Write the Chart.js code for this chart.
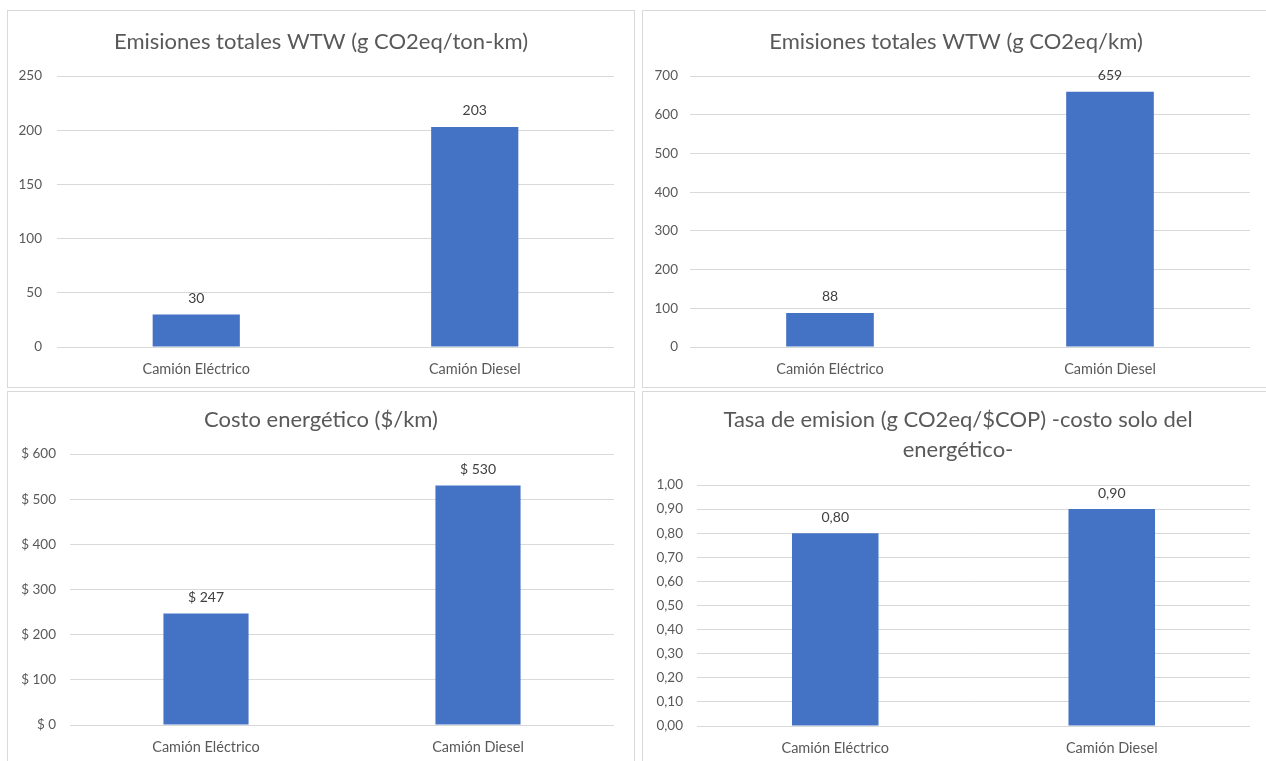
<!DOCTYPE html>
<html><head><meta charset="utf-8">
<script src="https://cdn.jsdelivr.net/npm/chart.js@4"></script>
<style>
body{margin:0;background:#fff;width:1266px;height:761px;overflow:hidden;position:relative;}
.panel{position:absolute;border:1px solid #d9d9d9;box-sizing:border-box;background:#fff}
canvas{display:block}
</style></head><body>
<div class="panel" id="p1" style="left:7px;top:10px;width:628px;height:378px"><canvas id="c1"></canvas></div>
<div class="panel" id="p2" style="left:642px;top:10px;width:628px;height:378px"><canvas id="c2"></canvas></div>
<div class="panel" id="p3" style="left:7px;top:391px;width:628px;height:378px"><canvas id="c3"></canvas></div>
<div class="panel" id="p4" style="left:642px;top:391px;width:628px;height:378px"><canvas id="c4"></canvas></div>
<script>
// ---- data ----
const categories = ['Camión Eléctrico', 'Camión Diesel'];
const emisionesTonKm = [30, 203];
const emisionesKm = [88, 659];
const costoKm = [247, 530];
const tasaEmision = [0.80, 0.90];

const title1 = ['Emisiones totales WTW (g CO2eq/ton-km)'];
const title2 = ['Emisiones totales WTW (g CO2eq/km)'];
const title3 = ['Costo energético ($/km)'];
const title4 = ['Tasa de emision (g CO2eq/$COP) -costo solo del', 'energético-'];

const FONT = 'Lato, "Open Sans", sans-serif';
const BAR = '#4472C4';

const fmtInt = v => String(Math.round(v));
const fmtMoney = v => '$ ' + Math.round(v);
const fmtDec = v => v.toFixed(2).replace('.', ',');

function makeChart(cfg) {
  const panel = document.getElementById(cfg.panel);
  const r = panel.getBoundingClientRect();
  const ox = r.left + 1, oy = r.top + 1;
  const w = r.width - 2, h = r.height - 2;
  const plot = cfg.plot;
  const titlePlugin = {
    id: 'ttl',
    afterDraw(chart) {
      const ctx = chart.ctx;
      ctx.save();
      ctx.fillStyle = '#595959';
      ctx.font = '22px ' + FONT;
      ctx.textAlign = 'center';
      ctx.textBaseline = 'middle';
      cfg.title.forEach((t, i) => ctx.fillText(t, cfg.titleX - ox, cfg.titleY[i] - oy));
      ctx.restore();
    }
  };
  const labelPlugin = {
    id: 'vals',
    afterDatasetsDraw(chart) {
      const ctx = chart.ctx;
      const meta = chart.getDatasetMeta(0);
      ctx.save();
      ctx.fillStyle = '#404040';
      ctx.font = '14px ' + FONT;
      ctx.textAlign = 'center';
      ctx.textBaseline = 'middle';
      meta.data.forEach((el, i) => {
        ctx.fillText(cfg.fmtLabel(chart.data.datasets[0].data[i]), el.x, el.y - 16);
      });
      ctx.restore();
    }
  };
  return new Chart(document.getElementById(cfg.canvas), {
    type: 'bar',
    data: {
      labels: categories,
      datasets: [{ data: cfg.data, backgroundColor: BAR, borderWidth: 0,
        categoryPercentage: 1, barPercentage: 0.313 }]
    },
    plugins: [titlePlugin, labelPlugin],
    options: {
      responsive: true, maintainAspectRatio: false, animation: false,
      layout: { padding: { top: plot.top - oy, left: 0, right: (ox + w) - plot.right, bottom: 0 } },
      plugins: { legend: { display: false }, tooltip: { enabled: false }, title: { display: false } },
      scales: {
        x: {
          grid: { display: false }, border: { display: false },
          ticks: { color: '#595959', font: { family: FONT, size: 14.5 }, padding: 6, maxRotation: 0 },
          afterFit(s) { s.height = (oy + h) - plot.bottom; }
        },
        y: {
          min: 0, max: cfg.max,
          border: { display: false },
          grid: { color: '#d9d9d9', lineWidth: 1, drawTicks: false },
          ticks: { stepSize: cfg.step, color: '#595959', font: { family: FONT, size: 13.5 },
            padding: cfg.tickPad, callback: v => cfg.fmtTick(v) },
          afterFit(s) { s.width = plot.left - ox; }
        }
      }
    }
  });
}

makeChart({ panel: 'p1', canvas: 'c1', data: emisionesTonKm, max: 250, step: 50,
  plot: { left: 57, right: 614, top: 76, bottom: 347 }, tickPad: 15,
  title: title1, titleX: 321, titleY: [42], fmtTick: fmtInt, fmtLabel: fmtInt });
makeChart({ panel: 'p2', canvas: 'c2', data: emisionesKm, max: 700, step: 100,
  plot: { left: 690, right: 1250, top: 76, bottom: 347 }, tickPad: 12,
  title: title2, titleX: 956, titleY: [42], fmtTick: fmtInt, fmtLabel: fmtInt });
makeChart({ panel: 'p3', canvas: 'c3', data: costoKm, max: 600, step: 100,
  plot: { left: 70, right: 614, top: 454, bottom: 725 }, tickPad: 14,
  title: title3, titleX: 321, titleY: [420], fmtTick: fmtMoney, fmtLabel: fmtMoney });
makeChart({ panel: 'p4', canvas: 'c4', data: tasaEmision, max: 1, step: 0.1,
  plot: { left: 697, right: 1250, top: 485, bottom: 726 }, tickPad: 14,
  title: title4, titleX: 958, titleY: [420, 450], fmtTick: fmtDec, fmtLabel: fmtDec });
</script>
</body></html>
